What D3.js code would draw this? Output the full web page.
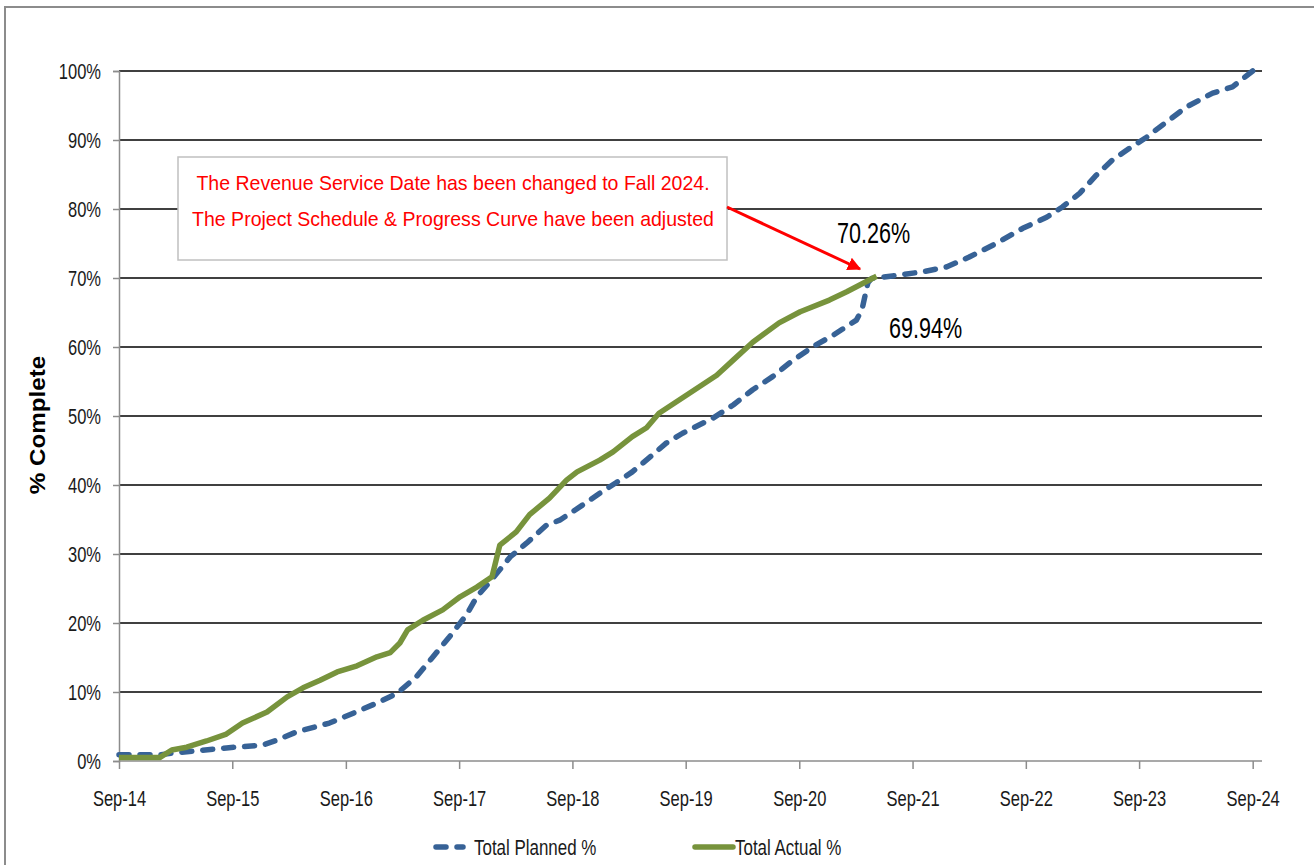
<!DOCTYPE html>
<html><head><meta charset="utf-8">
<script src="https://cdn.jsdelivr.net/npm/d3@7"></script>
<style>body{margin:0;background:#fff;overflow:hidden}svg{display:block}</style>
</head><body><svg id="c" width="1314" height="865"></svg>
<script>
// ---- data ----
const plannedDates = ["2014-09-01","2015-01-10","2015-03-04","2015-08-13","2015-12-07","2016-01-22","2016-03-25","2016-07-10","2016-09-13","2016-12-10","2017-02-13","2017-04-16","2017-06-07","2017-08-01","2017-09-25","2017-10-28","2017-12-19","2018-02-13","2018-04-07","2018-06-10","2018-07-22","2018-10-04","2018-11-28","2019-01-22","2019-03-13","2019-05-13","2019-07-01","2019-08-22","2019-11-28","2020-02-01","2020-04-04","2020-06-07","2020-08-01","2020-10-13","2020-12-19","2021-03-04","2021-03-22","2021-04-10","2021-04-22","2021-06-28","2021-10-04","2021-12-19","2022-03-01","2022-05-28","2022-08-22","2022-11-07","2022-12-28","2023-02-22","2023-04-16","2023-06-07","2023-08-01","2023-09-25","2023-11-16","2024-02-01","2024-04-25","2024-06-28","2024-09-01"];
const plannedValues = [0.9,0.9,1.2,1.9,2.3,3.0,4.2,5.5,6.7,8.4,9.8,12.2,15.0,18.0,21.2,23.8,26.5,29.6,31.6,34.2,34.9,37.1,38.8,40.4,41.9,44.2,46.1,47.5,49.7,51.6,53.8,55.7,57.7,60.0,61.7,63.9,65.4,69.3,69.94,70.3,70.9,71.6,73.0,75.0,77.2,78.8,80.3,82.3,84.9,87.1,88.8,90.4,92.2,94.8,96.8,97.7,100];
const actualDates = ["2014-09-01","2015-01-10","2015-02-18","2015-04-07","2015-06-10","2015-08-13","2015-10-04","2015-12-22","2016-02-25","2016-04-16","2016-06-10","2016-08-04","2016-10-07","2016-12-10","2017-01-22","2017-02-22","2017-03-19","2017-05-07","2017-07-10","2017-09-04","2017-10-28","2017-12-16","2018-01-10","2018-03-04","2018-04-16","2018-06-19","2018-08-13","2018-09-16","2018-11-28","2019-01-10","2019-03-13","2019-04-28","2019-06-07","2019-09-13","2019-12-10","2020-02-01","2020-04-04","2020-06-28","2020-09-04","2020-12-07","2021-02-01","2021-05-08"];
const actualValues = [0.5,0.5,1.6,2.0,2.9,3.9,5.5,7.1,9.3,10.6,11.7,12.9,13.8,15.1,15.7,17.1,19.0,20.4,21.9,23.8,25.2,26.7,31.3,33.2,35.7,38.1,40.7,41.9,43.6,44.8,47.0,48.3,50.4,53.3,55.9,58.1,60.7,63.5,65.1,66.8,68.0,70.26];
const xTickDates = ["2014-09-01","2015-09-01","2016-09-01","2017-09-01","2018-09-01","2019-09-01","2020-09-01","2021-09-01","2022-09-01","2023-09-01","2024-09-01"];
const yTickValues = [0,10,20,30,40,50,60,70,80,90,100];
const seriesNames = ["Total Planned %","Total Actual %"];
const annotationLines = ["The Revenue Service Date has been changed to Fall 2024.","The Project Schedule & Progress Curve have been adjusted"];
const actualLabel = "70.26%";
const plannedLabel = "69.94%";
const yTitle = "% Complete";

// ---- drawing ----
const parse = d3.timeParse("%Y-%m-%d");
const svg = d3.select("#c");
const FONT = "'Liberation Sans',Arial,sans-serif";
const BLUE = "#376296", GREEN = "#77933C";

// horizontally condense text about its anchor x
function squeeze(sel, k){
  sel.each(function(){
    const t = d3.select(this);
    const ax = +(t.attr("x") || 0);
    t.attr("transform", `translate(${ax*(1-k)},0) scale(${k},1)`);
  });
}

svg.append("rect").attr("x",5).attr("y",7).attr("width",1400).attr("height",1000)
  .attr("fill","#fff").attr("stroke","#8c8c8c").attr("stroke-width",2);

const x = d3.scaleTime().domain([parse("2014-09-01"), parse("2024-10-01")]).range([119,1262]);
const y = d3.scaleLinear().domain([0,100]).range([761,71]);

// gridlines
svg.append("g").selectAll("line").data(yTickValues.filter(v=>v>0)).join("line")
  .attr("x1",119).attr("x2",1262).attr("y1",d=>y(d)).attr("y2",d=>y(d))
  .attr("stroke","#404040").attr("stroke-width",1.8);

// y axis
const yAxis = d3.axisLeft(y).tickValues(yTickValues).tickFormat(d=>d+"%").tickSize(6).tickPadding(12);
const gy = svg.append("g").attr("transform","translate(119,0)").call(yAxis);
gy.select(".domain").attr("stroke","#8c8c8c").attr("stroke-width",1.5);
gy.selectAll(".tick line").attr("stroke","#8c8c8c").attr("stroke-width",1.5);
gy.selectAll(".tick text").attr("font-family",FONT).attr("font-size",22).attr("fill","#1a1a1a").call(squeeze,0.75);

// x axis
const xAxis = d3.axisBottom(x).tickValues(xTickDates.map(parse)).tickFormat(d3.timeFormat("%b-%y")).tickSize(8).tickPadding(21);
const gx = svg.append("g").attr("transform","translate(0,761)").call(xAxis);
gx.select(".domain").attr("stroke","#8c8c8c").attr("stroke-width",1.5).attr("d","M119,0H1262");
gx.selectAll(".tick line").attr("stroke","#8c8c8c").attr("stroke-width",1.5);
gx.selectAll(".tick text").attr("font-family",FONT).attr("font-size",22).attr("fill","#1a1a1a").call(squeeze,0.75);

// lines
const line = d3.line().x(d=>x(d[0])).y(d=>y(d[1])).curve(d3.curveLinear);
const planned = plannedDates.map((d,i)=>[parse(d), plannedValues[i]]);
const actual = actualDates.map((d,i)=>[parse(d), actualValues[i]]);

svg.append("path").datum(planned).attr("d",line).attr("fill","none")
  .attr("stroke",BLUE).attr("stroke-width",5.5).attr("stroke-dasharray","10,11")
  .attr("stroke-linecap","round").attr("stroke-linejoin","round");
svg.append("path").datum(actual).attr("d",line).attr("fill","none")
  .attr("stroke",GREEN).attr("stroke-width",5.5).attr("stroke-linejoin","round");

// y title
svg.append("text").attr("transform","translate(45,425) rotate(-90) scale(1.1,1)")
  .attr("text-anchor","middle").attr("font-family",FONT)
  .attr("font-weight","bold").attr("font-size",22).attr("fill","#000").text(yTitle);

// annotation box
svg.append("rect").attr("x",178).attr("y",157).attr("width",549).attr("height",103)
  .attr("fill","#fff").attr("stroke","#c0c0c0").attr("stroke-width",1.5);
svg.append("g").selectAll("text").data(annotationLines).join("text")
  .attr("x",453).attr("y",(d,i)=>190+i*36).attr("text-anchor","middle")
  .attr("font-family",FONT).attr("font-size",21).attr("fill","#ff0000").text(d=>d).call(squeeze,0.93);

// arrow
const defs = svg.append("defs");
defs.append("marker").attr("id","ah").attr("viewBox","0 0 10 10").attr("refX",9).attr("refY",5)
  .attr("markerWidth",4.5).attr("markerHeight",4.5).attr("orient","auto")
  .append("path").attr("d","M0,0L10,5L0,10z").attr("fill","#ff0000");
svg.append("line").attr("x1",727).attr("y1",207).attr("x2",860).attr("y2",269)
  .attr("stroke","#ff0000").attr("stroke-width",3).attr("marker-end","url(#ah)");

// value labels
svg.append("text").attr("x",873.5).attr("y",243).attr("text-anchor","middle")
  .attr("font-family",FONT).attr("font-size",30).attr("fill","#000").text(actualLabel).call(squeeze,0.72);
svg.append("text").attr("x",925.5).attr("y",338).attr("text-anchor","middle")
  .attr("font-family",FONT).attr("font-size",30).attr("fill","#000").text(plannedLabel).call(squeeze,0.72);

// legend
const lg = svg.append("g");
lg.append("line").attr("x1",436).attr("x2",463).attr("y1",847).attr("y2",847)
  .attr("stroke",BLUE).attr("stroke-width",5.5).attr("stroke-dasharray","10,11").attr("stroke-linecap","round");
lg.append("text").attr("x",474).attr("y",847).attr("dy","0.35em").attr("font-family",FONT)
  .attr("font-size",22).attr("fill","#1a1a1a").text(seriesNames[0]).call(squeeze,0.77);
lg.append("line").attr("x1",695).attr("x2",733).attr("y1",847).attr("y2",847)
  .attr("stroke",GREEN).attr("stroke-width",5.5).attr("stroke-linecap","round");
lg.append("text").attr("x",735).attr("y",847).attr("dy","0.35em").attr("font-family",FONT)
  .attr("font-size",22).attr("fill","#1a1a1a").text(seriesNames[1]).call(squeeze,0.77);
</script></body></html>
